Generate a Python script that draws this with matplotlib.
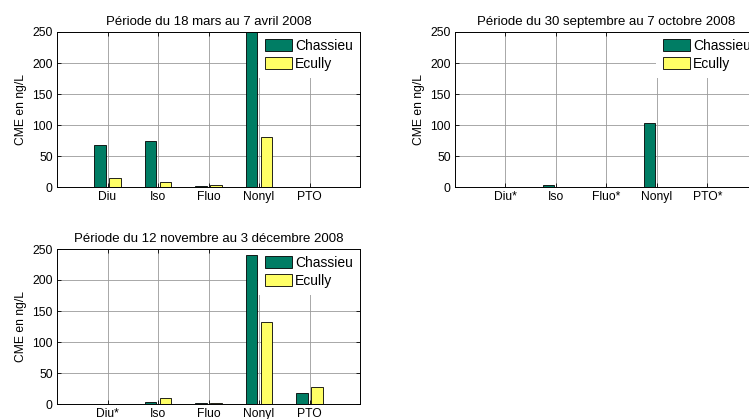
import matplotlib

matplotlib.use("Agg")
import matplotlib.pyplot as plt
import numpy as np

plt.rc("font", family=["Liberation Sans", "DejaVu Sans"])

TITLES = [
    "Période du 18 mars au 7 avril 2008",
    "Période du 30 septembre au 7 octobre 2008",
    "Période du 12 novembre au 3 décembre 2008",
]
TICK_LABELS = [
    ["Diu", "Iso", "Fluo", "Nonyl", "PTO"],
    ["Diu*", "Iso", "Fluo*", "Nonyl", "PTO*"],
    ["Diu*", "Iso", "Fluo", "Nonyl", "PTO"],
]
CHASSIEU = [
    [67, 74, 2, 250, 0.5],
    [0.5, 4, 0.5, 104, 0.5],
    [0.5, 3, 2, 240, 17],
]
ECULLY = [
    [15, 8, 3, 81, 0.5],
    [0.3, 0.3, 0.3, 0.3, 0.3],
    [0.5, 10, 2, 133, 28],
]
SERIES = [("Chassieu", "#007D64"), ("Ecully", "#FFFF66")]

W, H = 749, 419
fig = plt.figure(figsize=(W / 100, H / 100), dpi=100)

# axes boxes in pixels: left, top, width, height
boxes = [(57, 32, 303, 155), (455, 32, 303, 155), (57, 249, 303, 155)]

for i, (l, t, w, h) in enumerate(boxes):
    ax = fig.add_axes([l / W, 1 - (t + h) / H, w / W, h / H])
    x = np.arange(1, 6)
    for vals, (name, color), off in zip((CHASSIEU[i], ECULLY[i]), SERIES, (-0.15, 0.15)):
        ax.bar(x + off, vals, width=0.23, color=color, edgecolor="black",
               linewidth=0.6, label=name, zorder=3)
    ax.set_xlim(0, 6)
    ax.set_ylim(0, 250)
    ax.set_xticks(x)
    ax.set_xticklabels(TICK_LABELS[i])
    ax.set_yticks([0, 50, 100, 150, 200, 250])
    ax.tick_params(direction="in", top=True, right=True, length=3, width=0.6,
                   labelsize=8.7, pad=3)
    ax.grid(True, color="#9a9a9a", linewidth=0.6, zorder=0)
    ax.set_axisbelow(True)
    for s in ax.spines.values():
        s.set_linewidth(0.7)
        s.set_zorder(6)
    ax.set_ylabel("CME en ng/L", fontsize=8.7, labelpad=4)
    ax.set_title(TITLES[i], fontsize=9.5, pad=5)
    leg = ax.legend(loc="upper right", bbox_to_anchor=(1, 1), borderaxespad=0,
                    fancybox=False, framealpha=1, edgecolor="none", fontsize=10,
                    handlelength=1.95, handleheight=0.95, handletextpad=0.2,
                    labelspacing=0.3, borderpad=0.5)
    leg.set_zorder(5)

fig.savefig("out.png", dpi=100)
